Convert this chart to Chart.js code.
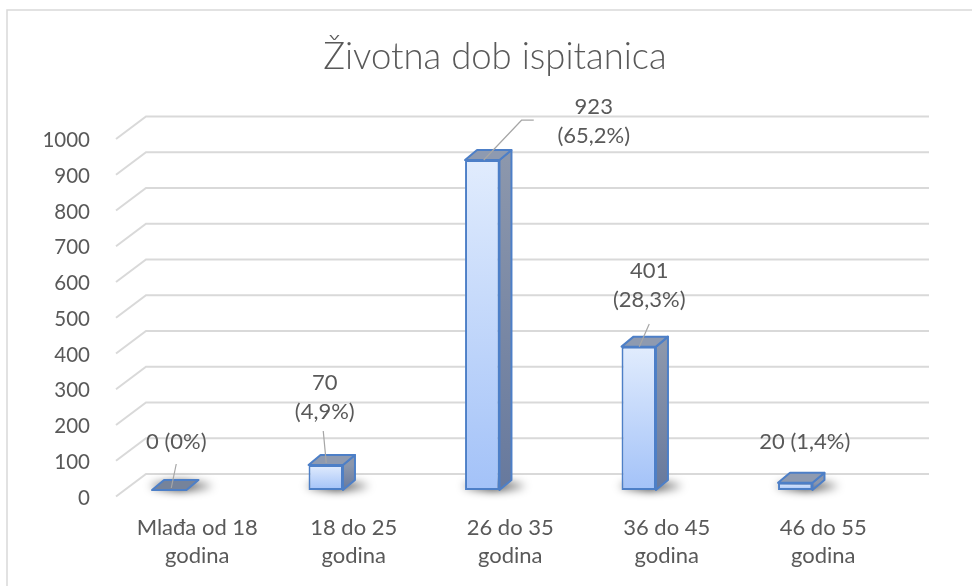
<!DOCTYPE html>
<html><head><meta charset="utf-8">
<style>html,body{margin:0;padding:0;background:#fff;} #wrap{width:972px;height:586px;position:relative;}</style>
<script src="https://cdn.jsdelivr.net/npm/chart.js@4.4.1/dist/chart.umd.min.js"></script>
</head><body><div id="wrap"><canvas id="c" width="972" height="586"></canvas></div>
<script>
const chartTitle = 'Životna dob ispitanica';
const categories = [['Mlađa od 18', 'godina'], ['18 do 25', 'godina'], ['26 do 35', 'godina'], ['36 do 45', 'godina'], ['46 do 55', 'godina']];
const counts = [0, 70, 923, 401, 20];
const percents = ['0%', '4,9%', '65,2%', '28,3%', '1,4%'];
const yMin = 0, yMax = 1000, yStep = 100;

// label placement relative to bar front-top centre (styling only)
const labelPlacement = [
  {dx: 7, dy: -48, two: false, lead: [[2, -2], [7, -26]]},
  {dx: -1, dy: -82, two: true, lead: [[0.5, -2], [-2.5, -34]]},
  {dx: 111.5, dy: -53, two: true, lead: [[1.5, 0], [39.5, -40], [51.5, -40]]},
  {dx: 10.5, dy: -75.6, two: true, lead: [[0.5, 0], [10.5, -22.6]]},
  {dx: 9.5, dy: -41, two: false, lead: null}
];

const FONT = 'Lato, "Open Sans", sans-serif';
const TXT = '#595959';
const BLUE = '#4d7fc7';
const DX = 12, DY = -10;

const frontGradient = (ctx) => {
  const chart = ctx.chart;
  const y = chart.scales.y;
  if (!y || ctx.dataIndex === undefined) return '#bcd3fa';
  const v = ctx.raw;
  const top = y.getPixelForValue(v), base = y.getPixelForValue(0);
  if (!isFinite(top) || !isFinite(base) || base - top < 1) return '#a8c5f8';
  const g = chart.ctx.createLinearGradient(0, top, 0, base);
  g.addColorStop(0, '#e1ecfd');
  g.addColorStop(1, '#a3c2f8');
  return g;
};

const decor = {
  id: 'decor',
  beforeDraw(chart) {
    const {ctx, chartArea, scales} = chart;
    ctx.save();
    ctx.fillStyle = '#fff';
    ctx.fillRect(0, 0, chart.width, chart.height);
    // outer chart border (top & left visible)
    ctx.strokeStyle = '#d9d9d9';
    ctx.lineWidth = 1.5;
    ctx.beginPath();
    ctx.moveTo(7, chart.height); ctx.lineTo(7, 10); ctx.lineTo(chart.width, 10);
    ctx.stroke();
    // title
    ctx.fillStyle = TXT;
    ctx.font = '300 36.5px ' + FONT;
    ctx.textAlign = 'center';
    ctx.textBaseline = 'middle';
    ctx.fillText(chartTitle, 495, 57);
    // 3D gridlines
    const ys = scales.y;
    ctx.strokeStyle = '#d9d9d9';
    ctx.lineWidth = 2;
    for (let v = yMin; v <= yMax; v += yStep) {
      const yf = ys.getPixelForValue(v);
      ctx.beginPath();
      ctx.moveTo(chartArea.left + 25, yf + 6.5);
      ctx.lineTo(chartArea.left + 55, yf - 16);
      ctx.lineTo(chartArea.right + 55.5, yf - 16);
      ctx.stroke();
    }
    ctx.restore();
  },
  beforeDatasetsDraw(chart) {
    const {ctx} = chart;
    const meta = chart.getDatasetMeta(0);
    ctx.save();
    ctx.filter = 'blur(4px)';
    meta.data.forEach((bar) => {
      const w = bar.width;
      const base = bar.base;
      const g = ctx.createLinearGradient(bar.x - w / 2 - 10, 0, bar.x + w / 2 + DX + 28, 0);
      g.addColorStop(0, 'rgba(0,0,0,0.25)');
      g.addColorStop(0.45, 'rgba(0,0,0,0.75)');
      g.addColorStop(1, 'rgba(0,0,0,0)');
      ctx.fillStyle = g;
      ctx.beginPath();
      ctx.ellipse(bar.x + 12, base - 4, w * 0.9, 5, 0, 0, Math.PI * 2);
      ctx.fill();
    });
    ctx.restore();
  },
  afterDatasetsDraw(chart) {
    const {ctx} = chart;
    const meta = chart.getDatasetMeta(0);
    ctx.save();
    ctx.lineJoin = 'round';
    meta.data.forEach((bar, i) => {
      const w = bar.width;
      const xl = bar.x - w / 2, xr = bar.x + w / 2;
      const top = bar.y, base = bar.base;
      // side face
      if (base - top > 0.5) {
        const sg = ctx.createLinearGradient(0, top, 0, base);
        sg.addColorStop(0, '#8c97ac');
        sg.addColorStop(1, '#67799d');
        ctx.fillStyle = sg;
        ctx.beginPath();
        ctx.moveTo(xr, top); ctx.lineTo(xr + DX, top + DY); ctx.lineTo(xr + DX, base + DY); ctx.lineTo(xr, base);
        ctx.closePath();
        ctx.fill();
        ctx.strokeStyle = BLUE; ctx.lineWidth = 2; ctx.stroke();
      }
      // top face
      ctx.fillStyle = (base - top > 0.5) ? '#8e9ab0' : '#76839a';
      ctx.beginPath();
      ctx.moveTo(xl, top); ctx.lineTo(xr, top); ctx.lineTo(xr + DX, top + DY); ctx.lineTo(xl + DX, top + DY);
      ctx.closePath();
      ctx.fill();
      ctx.strokeStyle = BLUE; ctx.lineWidth = 2; ctx.stroke();
    });
    // data labels with leader lines
    ctx.font = '22px ' + FONT;
    ctx.fillStyle = TXT;
    ctx.textAlign = 'center';
    ctx.textBaseline = 'middle';
    meta.data.forEach((bar, i) => {
      const p = labelPlacement[i];
      const cx = bar.x, top = bar.y;
      if (p.lead) {
        ctx.strokeStyle = '#a6a6a6';
        ctx.lineWidth = 1.2;
        ctx.beginPath();
        p.lead.forEach((pt, k) => {
          const px = cx + pt[0], py = top + pt[1];
          if (k === 0) ctx.moveTo(px, py); else ctx.lineTo(px, py);
        });
        ctx.stroke();
      }
      const val = String(counts[i]);
      const pct = '(' + percents[i] + ')';
      if (p.two) {
        ctx.fillText(val, cx + p.dx, top + p.dy);
        ctx.fillText(pct, cx + p.dx, top + p.dy + 29);
      } else {
        ctx.fillText(val + ' ' + pct, cx + p.dx, top + p.dy);
      }
    });
    ctx.restore();
  }
};

Chart.defaults.font.family = FONT;
Chart.defaults.color = TXT;

new Chart(document.getElementById('c'), {
  type: 'bar',
  data: {
    labels: categories,
    datasets: [{
      data: counts,
      backgroundColor: frontGradient,
      borderColor: BLUE,
      borderWidth: 2,
      borderSkipped: false,
      categoryPercentage: 0.22,
      barPercentage: 1
    }]
  },
  options: {
    responsive: false,
    animation: false,
    devicePixelRatio: 1,
    layout: {padding: {left: 36, right: 98.5, top: 132.5, bottom: 6}},
    plugins: {legend: {display: false}, tooltip: {enabled: false}, title: {display: false}},
    scales: {
      x: {
        grid: {display: false, drawTicks: false},
        border: {display: false},
        ticks: {font: {size: 22, lineHeight: 1.27}, color: TXT, padding: 24, labelOffset: 28, maxRotation: 0, autoSkip: false},
        afterFit(s) { s.height = 90; }
      },
      y: {
        min: yMin, max: yMax,
        grid: {display: false, drawTicks: false},
        border: {display: false},
        ticks: {stepSize: yStep, font: {size: 20.5}, color: TXT, padding: 1, labelOffset: 8,
          callback: (v) => String(v)},
        afterFit(s) { s.width = 55; }
      }
    }
  },
  plugins: [decor]
});
</script>
</body></html>
